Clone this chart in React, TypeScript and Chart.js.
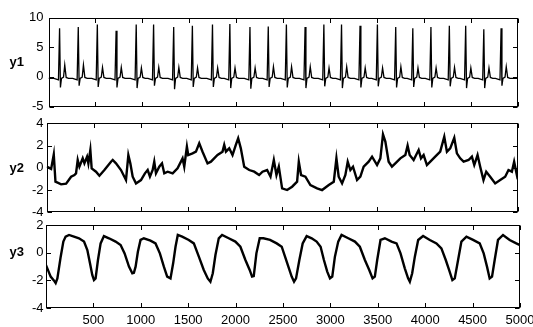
import React, { useEffect, useRef } from "react";
import { Chart, registerables } from "chart.js";
Chart.register(...registerables);

// ---------- data ----------
const X_MIN = 1;
const X_MAX = 5000;
const X_TICKS = [500, 1000, 1500, 2000, 2500, 3000, 3500, 4000, 4500, 5000];
const Y1_TICKS = [-5, 0, 5, 10];
const Y2_TICKS = [-4, -2, 0, 2, 4];
const Y3_TICKS = [-4, -2, 0, 2];

// y1: ECG-like beats (R-peak position, R height, S depth, T height)
const BEAT_X = [119, 318, 521, 721, 935, 1120, 1334, 1533, 1747, 1932, 2146, 2341, 2534, 2733, 2933, 3121, 3318, 3503, 3698, 3880, 4073, 4269, 4443, 4636, 4820];
const BEAT_R = [8.2, 8.4, 8.8, 7.75, 8.8, 8.8, 8.4, 8.6, 8.8, 8.9, 8.4, 8.5, 8.8, 8.4, 8.8, 8.8, 8.6, 8.8, 8.4, 8.2, 8.4, 8.6, 8.6, 8.0, 8.2];
const BEAT_S = [-1.8, -1.5, -1.7, -1.8, -1.9, -1.5, -2.1, -1.7, -1.7, -1.9, -2.0, -1.7, -1.8, -1.9, -1.6, -1.9, -1.8, -1.6, -1.8, -1.7, -1.8, -1.6, -1.9, -1.9, -1.5];
const BEAT_T = [2.0, 2.0, 1.6, 1.6, 1.5, 1.6, 1.6, 1.5, 1.5, 1.5, 1.5, 1.7, 1.7, 1.7, 1.5, 1.7, 1.5, 1.5, 1.7, 1.5, 1.5, 1.6, 1.5, 1.5, 1.7];
const ECG_BASE = -0.25;
// beat shape: offsets from the R peak and level kind
const WAVE_DX = [-60, -12, 0, 9, 20, 42, 55, 70, 95];
const WAVE_BASE_DY = [0, -0.25, 0, 0, 0, 0.2, 0, 0.15, 0];

const Y2_SAMPLES: [number, number][] = [
  [1, 0.1], [48, -0.1], [76, 1.21], [94, -1.25], [154, -1.49], [207, -1.43], [260, -0.8], [295, -0.65], [312, -0.5], [330, 0.7],
  [348, 0.1], [383, 0.85], [401, 0.4], [429, 1.0], [443, 0.4], [464, 1.6], [478, -0.05], [524, -0.35], [560, -0.71], [613, -0.2],
  [683, 0.55], [701, 0.7], [736, 0.4], [789, -0.2], [842, -1.1], [867, 1.15], [888, 0.4], [913, -0.8], [948, -1.4], [1001, -1.1],
  [1043, -0.5], [1072, -0.2], [1096, -0.8], [1125, -0.2], [1142, 0.55], [1160, -0.5], [1195, 0.1], [1224, 0.4], [1248, -0.5], [1284, -0.35],
  [1337, -0.5], [1389, -0.05], [1442, 0.85], [1460, 0.1], [1488, 1.9], [1502, 1.15], [1548, 1.3], [1584, 1.45], [1619, 2.2], [1654, 1.45],
  [1707, 0.4], [1743, 0.55], [1813, 1.15], [1866, 1.45], [1884, 2.05], [1902, 1.45], [1937, 1.75], [1972, 1.15], [2007, 2.05], [2032, 2.65],
  [2060, 1.75], [2096, 0.1], [2149, -0.2], [2202, -0.35], [2254, -0.65], [2290, -0.35], [2339, -0.2], [2375, -0.8], [2410, 0.7], [2438, -0.65],
  [2463, 0.1], [2498, -1.85], [2551, -2.0], [2604, -1.7], [2657, -1.25], [2675, 0.55], [2699, -0.65], [2745, -0.8], [2798, -1.55], [2869, -1.85],
  [2922, -2.0], [2993, -1.55], [3046, -1.25], [3074, 0.85], [3098, -0.8], [3134, -1.4], [3169, -0.65], [3194, 0.55], [3222, -0.2], [3250, 0.1],
  [3293, -1.1], [3328, -0.8], [3363, 0.1], [3416, 0.55], [3452, 1.0], [3505, 0.25], [3540, 0.85], [3568, 3.0], [3593, 2.35], [3628, 0.55],
  [3663, 0.1], [3699, 0.4], [3752, 0.85], [3805, 1.15], [3829, 2.0], [3851, 1.15], [3893, 0.7], [3946, 1.6], [3971, 0.85], [3999, 1.15],
  [4034, 0.25], [4070, 0.55], [4122, 1.0], [4175, 1.45], [4218, 2.8], [4246, 1.45], [4281, 1.75], [4324, 2.7], [4352, 1.3], [4387, 0.85],
  [4423, 0.55], [4476, 0.7], [4511, 1.0], [4536, 0.25], [4571, 1.15], [4599, 0.1], [4634, -1.1], [4663, -0.35], [4705, -0.8], [4758, -1.4],
  [4811, -1.1], [4864, -0.8], [4899, -0.2], [4935, -0.35], [4959, 0.55], [4988, -0.65], [5000, -0.3],
];

const Y3_SAMPLES: [number, number][] = [
  [1, -0.9], [50, -1.73], [86, -2.02], [103, -2.2], [121, -1.86], [156, -0.29], [184, 0.8], [208, 1.16], [244, 1.28], [296, 1.16],
  [349, 1.04], [402, 0.8], [437, 0.19], [465, -0.77], [489, -1.61], [507, -1.98], [524, -1.86], [549, -0.53], [577, 0.67], [612, 1.2],
  [665, 1.04], [735, 0.8], [788, 0.55], [830, -0.05], [876, -1.01], [911, -1.49], [928, -1.45], [946, -1.01], [970, 0.07], [998, 0.92],
  [1033, 1.04], [1103, 0.87], [1156, 0.67], [1202, -0.05], [1244, -1.01], [1279, -1.73], [1314, -1.86], [1342, -0.77], [1367, 0.43], [1391, 1.28],
  [1437, 1.16], [1507, 0.92], [1560, 0.67], [1613, -0.29], [1665, -1.25], [1707, -1.86], [1735, -2.1], [1760, -1.49], [1788, -0.17], [1823, 1.04],
  [1858, 1.28], [1928, 1.04], [1998, 0.8], [2051, 0.43], [2104, -0.53], [2149, -1.25], [2174, -1.73], [2192, -1.69], [2220, -0.05], [2255, 1.04],
  [2294, 1.04], [2364, 0.92], [2434, 0.67], [2487, 0.43], [2522, -0.29], [2557, -1.01], [2592, -1.73], [2617, -2.1], [2638, -1.86], [2673, -0.53],
  [2708, 0.67], [2750, 1.2], [2803, 1.04], [2855, 0.8], [2897, 0.43], [2932, -0.53], [2967, -1.37], [2996, -1.86], [3020, -1.73], [3048, -0.29],
  [3083, 0.8], [3118, 1.28], [3189, 1.04], [3259, 0.8], [3311, 0.43], [3364, -0.53], [3410, -1.25], [3445, -1.86], [3469, -1.73], [3494, -0.53],
  [3529, 0.92], [3575, 1.04], [3645, 0.8], [3698, 0.67], [3740, -0.05], [3785, -1.13], [3820, -1.86], [3838, -2.1], [3863, -1.49], [3891, -0.29],
  [3926, 0.92], [3978, 1.2], [4049, 0.92], [4119, 0.67], [4171, 0.31], [4217, -0.53], [4252, -1.25], [4287, -1.98], [4312, -1.86], [4347, -0.53],
  [4382, 0.8], [4435, 1.16], [4505, 0.92], [4575, 0.67], [4617, -0.05], [4652, -1.01], [4680, -1.86], [4705, -1.73], [4733, -0.53], [4768, 0.92],
  [4821, 1.28], [4891, 0.92], [4961, 0.67], [5000, 0.55],
];

// ---------- build series ----------
function buildY1() {
  const pts: { x: number; y: number }[] = [{ x: X_MIN, y: ECG_BASE }];
  BEAT_X.forEach((bx, i) => {
    const levels = [ECG_BASE, ECG_BASE, BEAT_R[i], BEAT_S[i], ECG_BASE, ECG_BASE, BEAT_T[i], ECG_BASE, ECG_BASE];
    WAVE_DX.forEach((dx, k) => {
      const isPeak = k === 2 || k === 3 || k === 6;
      pts.push({ x: bx + dx, y: isPeak ? levels[k] : levels[k] + WAVE_BASE_DY[k] });
    });
  });
  pts.push({ x: X_MAX, y: ECG_BASE });
  return pts;
}
const toPts = (s: [number, number][]) => s.map(([x, y]) => ({ x, y }));

// ---------- layout ----------
const W = 533;
const FONT = '"Liberation Sans", Arial, Helvetica, sans-serif';

type Panel = {
  label: string;
  canvasTop: number;
  height: number;
  area: { left: number; right: number; top: number; bottom: number };
  yMin: number;
  yMax: number;
  yTicks: number[];
  labelY: number;
  showX: boolean;
  lw: number;
  points: { x: number; y: number }[];
};

const PANELS: Panel[] = [
  { label: "y1", canvasTop: 0, height: 118, area: { left: 48.5, right: 518, top: 17.5, bottom: 106.5 }, yMin: -5, yMax: 10, yTicks: Y1_TICKS, labelY: 62, showX: false, lw: 1.3, points: buildY1() },
  { label: "y2", canvasTop: 112, height: 106, area: { left: 46.7, right: 518, top: 123.3, bottom: 212.3 }, yMin: -4, yMax: 4, yTicks: Y2_TICKS, labelY: 168, showX: false, lw: 2.4, points: toPts(Y2_SAMPLES) },
  { label: "y3", canvasTop: 216, height: 111, area: { left: 46, right: 520, top: 225, bottom: 308 }, yMin: -4, yMax: 2, yTicks: Y3_TICKS, labelY: 252.7, showX: true, lw: 2.4, points: toPts(Y3_SAMPLES) },
];

function PanelChart({ p }: { p: Panel }) {
  const ref = useRef<HTMLCanvasElement | null>(null);
  useEffect(() => {
    if (!ref.current) return;
    const top = p.area.top - p.canvasTop;
    const bottom = p.area.bottom - p.canvasTop;
    const frame = {
      id: "frame" + p.label,
      afterDraw(chart: any) {
        const { ctx, chartArea, scales } = chart;
        const L = Math.round(chartArea.left) + 0.5;
        const R = Math.round(chartArea.right) - 0.5;
        const T = Math.round(chartArea.top) + 0.5;
        const B = Math.round(chartArea.bottom) - 0.5;
        const tl = 4.5;
        ctx.save();
        ctx.strokeStyle = "#000";
        ctx.lineWidth = 1;
        ctx.beginPath();
        X_TICKS.forEach((v) => {
          const px = Math.round(scales.x.getPixelForValue(v)) + 0.5;
          ctx.moveTo(px, B);
          ctx.lineTo(px, B - tl);
          ctx.moveTo(px, T);
          ctx.lineTo(px, T + tl);
        });
        p.yTicks.forEach((v) => {
          const py = Math.round(scales.y.getPixelForValue(v)) + 0.5;
          ctx.moveTo(L, py);
          ctx.lineTo(L + tl, py);
          ctx.moveTo(R, py);
          ctx.lineTo(R - tl, py);
        });
        ctx.stroke();
        ctx.strokeRect(L, T, R - L, B - T);
        ctx.fillStyle = "#000";
        ctx.font = "bold 13px " + FONT;
        ctx.textAlign = "right";
        ctx.textBaseline = "middle";
        ctx.fillText(p.label, 24, p.labelY - p.canvasTop);
        ctx.restore();
      },
    };
    const chart = new Chart(ref.current, {
      type: "line",
      data: {
        datasets: [
          {
            data: p.points,
            borderColor: "#000",
            borderWidth: p.lw,
            pointRadius: 0,
            tension: 0,
            fill: false,
          },
        ],
      },
      options: {
        animation: false,
        responsive: false,
        devicePixelRatio: 1,
        parsing: false,
        layout: {
          padding: {
            left: 0,
            right: W - p.area.right,
            top: top,
            bottom: p.showX ? 0 : p.height - bottom,
          },
        },
        plugins: { legend: { display: false }, tooltip: { enabled: false } },
        scales: {
          x: {
            type: "linear",
            min: X_MIN,
            max: X_MAX,
            display: p.showX,
            grid: { display: false, drawTicks: false },
            border: { display: false },
            ticks: {
              color: "#000",
              font: { family: FONT, size: 13 },
              padding: 5,
              maxRotation: 0,
              autoSkip: false,
              callback: (v: any) => String(v),
            },
            afterBuildTicks: (s: any) => {
              s.ticks = X_TICKS.map((v) => ({ value: v }));
            },
            afterFit: (s: any) => {
              if (p.showX) s.height = p.height - bottom;
              s.paddingLeft = 0;
              s.paddingRight = 0;
            },
          },
          y: {
            type: "linear",
            min: p.yMin,
            max: p.yMax,
            grid: { display: false, drawTicks: false },
            border: { display: false },
            ticks: {
              color: "#000",
              font: { family: FONT, size: 13 },
              padding: p.area.left - 43.5,
              callback: (v: any) => String(v),
            },
            afterBuildTicks: (s: any) => {
              s.ticks = p.yTicks.map((v) => ({ value: v }));
            },
            afterFit: (s: any) => {
              s.width = p.area.left;
              s.paddingTop = 0;
              s.paddingBottom = 0;
            },
          },
        },
      } as any,
      plugins: [frame],
    });
    return () => chart.destroy();
  }, [p]);
  return (
    <canvas
      ref={ref}
      width={W}
      height={p.height}
      style={{ position: "absolute", left: 0, top: p.canvasTop, width: W, height: p.height, display: "block" }}
    />
  );
}

export default function App() {
  return (
    <div style={{ position: "fixed", left: 0, top: 0, width: W, height: 327, background: "#fff", overflow: "hidden" }}>
      {PANELS.map((p) => (
        <PanelChart key={p.label} p={p} />
      ))}
    </div>
  );
}
